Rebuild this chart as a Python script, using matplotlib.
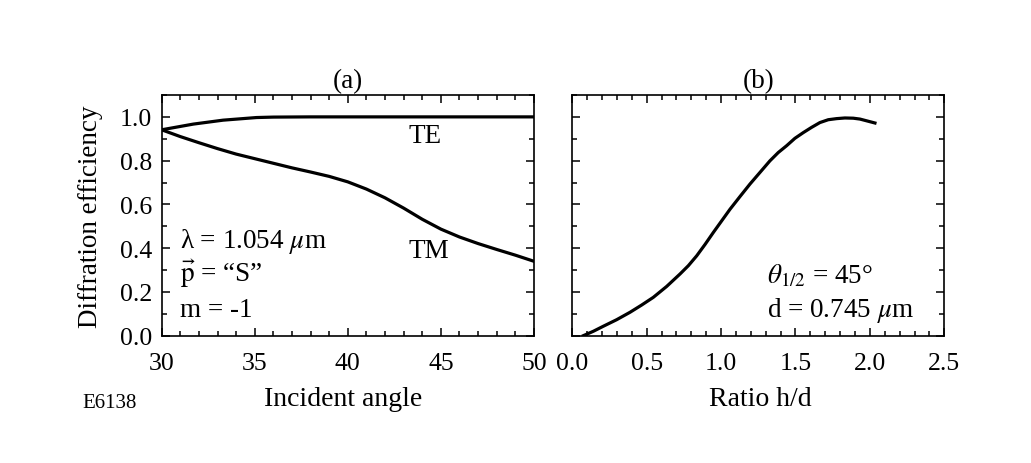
import matplotlib
matplotlib.use("Agg")
import matplotlib.pyplot as plt
from matplotlib.ticker import MultipleLocator, FormatStrFormatter

plt.rcParams['font.family'] = ['Liberation Serif', 'DejaVu Serif']
plt.rcParams['mathtext.fontset'] = 'stix'

# (a) efficiency vs incident angle
te_angle = [30, 31.7, 33.3, 35.1, 36, 38, 40, 42, 44, 46, 48, 50]
te_eff = [0.941, 0.967, 0.985, 0.997, 0.999, 1.0, 1.0, 1.0, 1.0, 1.0, 1.0, 1.0]

tm_angle = [30, 31, 32, 33, 34, 35, 36, 37, 38, 39, 40, 41, 42, 43, 44, 45, 46, 47, 48, 49, 50]
tm_eff = [0.941, 0.910, 0.882, 0.855, 0.830, 0.809, 0.788, 0.767, 0.748, 0.728, 0.703,
          0.670, 0.630, 0.583, 0.532, 0.487, 0.451, 0.421, 0.394, 0.368, 0.340]

# (b) efficiency vs ratio h/d
ratio = [0.074, 0.141, 0.208, 0.298, 0.388, 0.466, 0.544, 0.634, 0.724, 0.780, 0.836,
         0.892, 0.948, 1.004, 1.060, 1.127, 1.194, 1.261, 1.328, 1.384, 1.440, 1.496,
         1.552, 1.608, 1.664, 1.720, 1.776, 1.832, 1.888, 1.933, 1.978, 2.034]
ratio_eff = [0.0, 0.020, 0.043, 0.073, 0.107, 0.140, 0.175, 0.225, 0.282, 0.320, 0.365,
             0.417, 0.472, 0.525, 0.578, 0.636, 0.693, 0.746, 0.799, 0.837, 0.868, 0.902,
             0.928, 0.952, 0.974, 0.987, 0.992, 0.995, 0.994, 0.990, 0.982, 0.972]

fig = plt.figure(figsize=(10.31, 4.64), dpi=100)
ax1 = fig.add_axes([0.1568, 0.2744, 0.3611, 0.5187])
ax2 = fig.add_axes([0.5551, 0.2744, 0.3608, 0.5187])

for ax in (ax1, ax2):
    ax.set_ylim(0, 1.1)
    ax.yaxis.set_major_locator(MultipleLocator(0.2))
    ax.yaxis.set_minor_locator(MultipleLocator(0.1))
    ax.tick_params(which='both', direction='in', top=True, right=True, width=1.1, colors='black')
    ax.tick_params(which='major', length=6)
    ax.tick_params(which='minor', length=3.5)
    ax.tick_params(axis='y', pad=7, labelsize=18.5)
    ax.tick_params(axis='x', pad=12, labelsize=18.5)
    for s in ax.spines.values():
        s.set_linewidth(1.2)

ax1.plot(te_angle, te_eff, color='black', lw=2.3)
ax1.plot(tm_angle, tm_eff, color='black', lw=2.3)
ax1.set_xlim(30, 50)
ax1.xaxis.set_major_locator(MultipleLocator(5))
ax1.xaxis.set_minor_locator(MultipleLocator(1))
ax1.yaxis.set_major_formatter(FormatStrFormatter('%.1f'))
ax1.set_title('(a)', fontsize=19.5, pad=6)
ax1.set_xlabel('Incident angle', fontsize=20)
ax1.xaxis.set_label_coords(0.487, -0.21)
ax1.set_ylabel('Diffration efficiency', fontsize=19.5)
ax1.yaxis.set_label_coords(-0.158, 0.5)

ax1.text(43.25, 0.884, 'TE', fontsize=19.5, va='baseline')
ax1.text(43.25, 0.359, 'TM', fontsize=19.5, va='baseline')
ax1.text(31.0, 0.405, 'λ = 1.054 $\\mu$m', fontsize=19.5, va='baseline')
ax1.text(31.0, 0.251, '$\\vec{\\mathrm{p}}$ = \u201cS\u201d', fontsize=19.5, va='baseline')
ax1.text(31.0, 0.090, 'm = -1', fontsize=19.5, va='baseline')

ax2.plot(ratio, ratio_eff, color='black', lw=2.3)
ax2.set_xlim(0, 2.5)
ax2.xaxis.set_major_locator(MultipleLocator(0.5))
ax2.xaxis.set_minor_locator(MultipleLocator(0.1))
ax2.xaxis.set_major_formatter(FormatStrFormatter('%.1f'))
ax2.set_yticklabels([])
ax2.set_title('(b)', fontsize=19.5, pad=6)
ax2.set_xlabel('Ratio h/d', fontsize=20)
ax2.xaxis.set_label_coords(0.505, -0.21)
ax2.text(1.308, 0.245, '$\\theta_{1/2}$ = 45°', fontsize=19.5, va='baseline')
ax2.text(1.308, 0.091, 'd = 0.745 $\\mu$m', fontsize=19.5, va='baseline')

fig.text(0.0795, 0.1207, 'E6138', fontsize=15, va='baseline')

fig.savefig('out.png', dpi=100)
